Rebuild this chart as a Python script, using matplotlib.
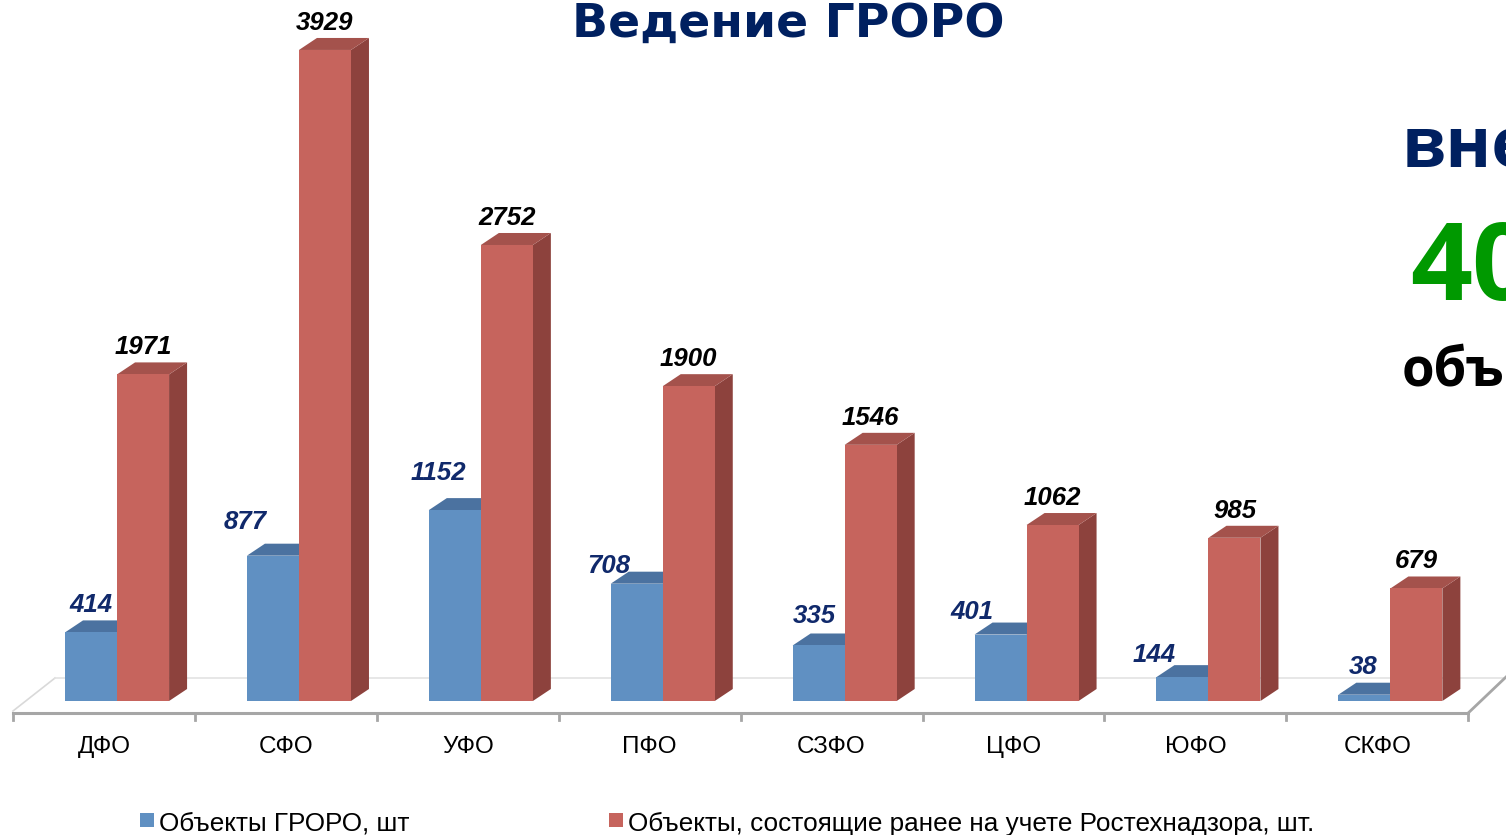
import matplotlib.pyplot as plt
from matplotlib.patches import Polygon, Rectangle

categories = ["ДФО", "СФО", "УФО", "ПФО", "СЗФО", "ЦФО", "ЮФО", "СКФО"]
groro = [414, 877, 1152, 708, 335, 401, 144, 38]
rtn = [1971, 3929, 2752, 1900, 1546, 1062, 985, 679]
series_names = ["Объекты ГРОРО, шт",
                "Объекты, состоящие ранее на учете Ростехнадзора, шт."]
title = "Ведение ГРОРО"
side_texts = ["вне", "40", "объ"]

W, H = 1506, 835
PX_UNIT = 181.9   # pixels per category slot
PX_VAL = 0.1657   # pixels per value unit
X0 = 13           # left end of axis, px
BASE = 701        # bar base, px from top

BLUE = {"front": "#6090C2", "top": "#4B72A0", "side": "#41658F"}
RED = {"front": "#C6645D", "top": "#A4524C", "side": "#8D423D"}

# hand-placed blue labels in the original (pixel nudges)
blue_nudge_x = [0, -28, -16, -28, -4, -29, -28, -1]
blue_nudge_y = [0, -7, -10, 9, -2, 4, 5, -1]

plt.rcParams["font.family"] = ["Liberation Sans", "DejaVu Sans"]

fig = plt.figure(figsize=(W / 100, H / 100), dpi=100)
ax = fig.add_axes([0, 0, 1, 1])
ax.set_xlim(-X0 / PX_UNIT, (W - X0) / PX_UNIT)
ax.set_ylim((BASE - H) / PX_VAL, BASE / PX_VAL)
ax.axis("off")

dx = 18 / PX_UNIT
dy = 12 / PX_VAL
bw = 0.286
n = len(categories)

# floor
y_front = -12 / PX_VAL
y_back = (BASE - 678) / PX_VAL
fx = 42 / PX_UNIT
ax.plot([0, fx], [y_front + 2 / PX_VAL, y_back], color="#D9D9D9", lw=1.2, zorder=0)
ax.plot([fx, n + fx + 1], [y_back, y_back], color="#E3E3E3", lw=1.2, zorder=0)
ax.plot([0, n], [y_front, y_front], color="#A6A6A6", lw=2.2, zorder=1)
ax.plot([n, n + fx], [y_front, y_back + 5 / PX_VAL], color="#A6A6A6", lw=2.0, zorder=1)
for i in range(n + 1):
    ax.plot([i, i], [y_front, y_front - 7 / PX_VAL], color="#A6A6A6", lw=2.0, zorder=1)


def bar3d(left, vals, col, z):
    ax.bar([i + left for i in range(n)], vals, width=bw, align="edge",
           color=col["front"], zorder=z + 1, linewidth=0)
    for i, v in enumerate(vals):
        x = i + left
        top = [(x, v), (x + bw, v), (x + bw + dx, v + dy), (x + dx, v + dy)]
        side = [(x + bw, 0), (x + bw + dx, dy), (x + bw + dx, v + dy), (x + bw, v)]
        ax.add_patch(Polygon(side, closed=True, fc=col["side"], ec="none", zorder=z))
        ax.add_patch(Polygon(top, closed=True, fc=col["top"], ec="none", zorder=z))


bar3d(0.286, groro, BLUE, 2)
bar3d(0.572, rtn, RED, 4)

off = 15 / PX_VAL
for i, v in enumerate(groro):
    ax.text(i + 0.286 + bw / 2 + blue_nudge_x[i] / PX_UNIT,
            v + dy + off - blue_nudge_y[i] / PX_VAL, str(v),
            ha="center", va="center", fontsize=18.5, fontweight="bold",
            fontstyle="italic", color="#10296B", zorder=10)
for i, v in enumerate(rtn):
    ax.text(i + 0.572 + bw / 2, v + dy + off, str(v), ha="center", va="center",
            fontsize=18.5, fontweight="bold", fontstyle="italic", color="black",
            zorder=10)

for i, c in enumerate(categories):
    ax.text(i + 0.5, (BASE - 747) / PX_VAL, c, ha="center", va="center",
            fontsize=17.5, color="black")


def fx_(px):
    return px / W


def fy_(px):
    return 1 - px / H


# legend
for sq, tx, col, name in [(140, 159, BLUE["front"], series_names[0]),
                          (609, 628, RED["front"], series_names[1])]:
    fig.add_artist(Rectangle((fx_(sq), fy_(827)), 14 / W, 14 / H,
                             transform=fig.transFigure, fc=col, ec="none"))
    fig.text(fx_(tx), fy_(831), name, ha="left", va="baseline", fontsize=18.8)

# title and cut-off side text
bold = ["Open Sans", "DejaVu Sans"]
fig.text(fx_(788), fy_(37), title, ha="center", va="baseline", fontsize=34,
         fontweight="bold", color="#002060", family=["DejaVu Sans"])
fig.text(fx_(1402), fy_(168), side_texts[0], ha="left", va="baseline", fontsize=50,
         fontweight="bold", color="#002060", family=bold)
fig.text(fx_(1410), fy_(300), side_texts[1], ha="left", va="baseline", fontsize=78,
         fontweight="bold", color="#009900", family=bold)
fig.text(fx_(1402), fy_(385), side_texts[2], ha="left", va="baseline", fontsize=38,
         fontweight="bold", color="black", family=bold)

fig.savefig("out.png", dpi=100)
